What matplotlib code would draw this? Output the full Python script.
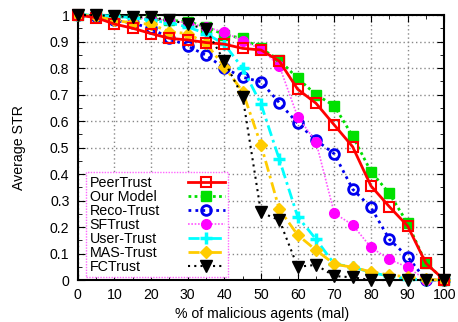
import matplotlib.pyplot as plt
import numpy as np

mal = [0, 5, 10, 15, 20, 25, 30, 35, 40, 45, 50, 55, 60, 65, 70, 75, 80, 85, 90, 95, 100]

peer = [1.0, 0.99, 0.966, 0.95, 0.93, 0.912, 0.906, 0.896, 0.89, 0.874, 0.868,
        0.826, 0.72, 0.667, 0.585, 0.503, 0.355, 0.277, 0.204, 0.063, 0.0]
ours = [1.0, 1.0, 0.995, 0.99, 0.985, 0.98, 0.975, 0.956, 0.925, 0.912, 0.874,
        0.83, 0.761, 0.70, 0.657, 0.543, 0.409, 0.327, 0.214, 0.063, 0.0]
reco = [1.0, 0.995, 0.98, 0.969, 0.95, 0.912, 0.883, 0.848, 0.80, 0.765, 0.748,
        0.669, 0.591, 0.528, 0.476, 0.343, 0.274, 0.154, 0.088, 0.0, 0.0]
sft = [1.0, 1.0, 0.995, 0.99, 0.985, 0.98, 0.97, 0.955, 0.935, 0.903, 0.871,
       0.808, 0.616, 0.522, 0.252, 0.208, 0.123, 0.078, 0.048, 0.0, 0.0]
user = [1.0, 1.0, 0.995, 0.99, 0.98, 0.97, 0.955, 0.93, 0.89, 0.799, 0.664,
        0.455, 0.239, 0.154, 0.06, 0.05, 0.028, 0.015, 0.005, 0.0, 0.0]
mas = [1.0, 0.995, 0.98, 0.97, 0.965, 0.937, 0.93, 0.893, 0.805, 0.711, 0.51,
       0.267, 0.17, 0.113, 0.06, 0.048, 0.031, 0.019, 0.012, 0.002, 0.0]
fct = [1.0, 1.0, 0.995, 0.993, 0.991, 0.981, 0.966, 0.946, 0.826, 0.692, 0.255,
       0.226, 0.05, 0.057, 0.015, 0.01, 0.0, 0.0, 0.0, 0.0, 0.0]

plt.rcParams['font.family'] = ['Liberation Sans', 'DejaVu Sans']

fig = plt.figure(figsize=(4.58, 3.22), dpi=100)
ax = fig.add_axes([0.1697, 0.1304, 0.8003, 0.823])

ax.plot(mal, peer, color='#ff0000', lw=2.0, ls='-', marker='s', ms=7,
        mfc='none', mec='#ff0000', mew=1.5, label='PeerTrust', clip_on=False, zorder=5)
ax.plot(mal, ours, color='#00e000', lw=2.0, ls=(0, (1, 1.2)), marker='s', ms=7,
        mfc='#00e000', mec='#00e000', label='Our Model', clip_on=False, zorder=4)
ax.plot(mal, reco, color='#0000ee', lw=2.0, ls=(0, (1, 1.5)), marker='o', ms=7,
        mfc='none', mec='#0000ee', mew=2.0, label='Reco-Trust', clip_on=False, zorder=4)
ax.plot(mal, sft, color='#ff55ff', lw=1.2, ls=(0, (1, 1)), marker='o', ms=7,
        mfc='#ff00ff', mec='#ff00ff', label='SFTrust', clip_on=False, zorder=4)
ax.plot(mal, user, color='#00ffff', lw=2.0, ls=(0, (4, 1.5, 1, 1.5)), marker='+', ms=9,
        mew=2.5, label='User-Trust', clip_on=False, zorder=4)
ax.plot(mal, mas, color='#ffcc00', lw=2.0, ls=(0, (4, 1.5, 1, 1.5)), marker='D', ms=6,
        mfc='#ffcc00', mec='#ffcc00', label='MAS-Trust', clip_on=False, zorder=4)
ax.plot(mal, fct, color='black', lw=1.5, ls=(0, (1, 2)), marker='v', ms=8,
        mfc='black', mec='black', label='FCTrust', clip_on=False, zorder=6)

ax.set_xlim(0, 100)
ax.set_ylim(0, 1)
ax.set_xticks(np.arange(0, 101, 10))
ax.set_xticks(np.arange(0, 101, 5), minor=True)
ax.set_yticks(np.arange(0, 1.01, 0.1))
ax.set_yticks(np.arange(0, 1.01, 0.05), minor=True)
ax.set_yticklabels(['0', '0.1', '0.2', '0.3', '0.4', '0.5', '0.6', '0.7', '0.8', '0.9', '1'])
ax.tick_params(which='both', direction='in', top=True, right=True, labelsize=10.2, pad=6)
ax.tick_params(which='major', length=5)
ax.tick_params(which='minor', length=3)
ax.grid(True, which='major', color='#888888', ls=(0, (1, 2)), lw=1)
for s in ax.spines.values():
    s.set_linewidth(1.5)

ax.set_xlabel('% of malicious agents (mal)', fontsize=10.2)
ax.set_ylabel('Average STR', fontsize=10.2)
ax.xaxis.set_label_coords(0.503, -0.1)
ax.yaxis.set_label_coords(-0.142, 0.5)

leg = ax.legend(loc='lower left', bbox_to_anchor=(0.023, 0.011), borderaxespad=0,
                fontsize=10.3, markerfirst=False, handlelength=2.6, handletextpad=1.0,
                labelspacing=0.0, borderpad=0.25, fancybox=False,
                framealpha=1, edgecolor='#ff66ff')
leg.get_frame().set_linestyle((0, (1, 1)))
leg.get_frame().set_linewidth(1.0)
# labels flush left, samples flush right
for col in leg._legend_handle_box.get_children():
    col.align = 'left'
    for row in col.get_children():
        row.width = 135
        row.mode = 'expand'

fig.savefig('out.png', dpi=100)
